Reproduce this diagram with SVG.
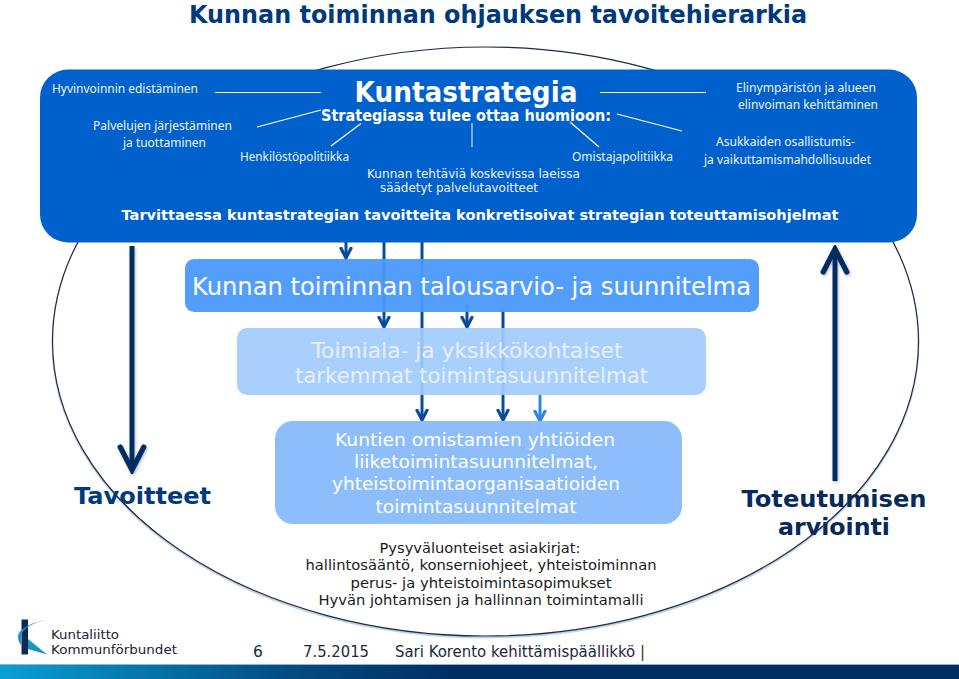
<svg xmlns="http://www.w3.org/2000/svg" width="959" height="679" viewBox="0 0 959 679">
<defs>
<linearGradient id="bar" x1="0" x2="1" y1="0" y2="0"><stop offset="0" stop-color="#09a0d6"/><stop offset="0.15" stop-color="#0575aa"/><stop offset="0.3" stop-color="#034c82"/><stop offset="0.48" stop-color="#002d62"/><stop offset="1" stop-color="#002d62"/></linearGradient>
<filter id="sh" filterUnits="userSpaceOnUse" x="0" y="0" width="959" height="679"><feDropShadow dx="1" dy="1.500" stdDeviation="1.500" flood-color="#5a6a80" flood-opacity="0.45"/></filter>
<marker id="ahb" viewBox="0 0 10 10" refX="8.6" refY="5" markerWidth="6.2" markerHeight="6.2" orient="auto" markerUnits="strokeWidth"><path d="M1.2 1.2L8.6 5L1.2 8.8" fill="none" stroke="#002d62" stroke-width="1.700" stroke-linecap="round"/></marker>
<marker id="ahm" viewBox="0 0 10 10" refX="8.6" refY="5" markerWidth="4.400" markerHeight="4.400" orient="auto" markerUnits="strokeWidth"><path d="M1.2 1.2L8.6 5L1.2 8.800" fill="none" stroke="#0a4c9c" stroke-width="2.400" stroke-linecap="round"/></marker>
<marker id="ahl" viewBox="0 0 10 10" refX="8.6" refY="5" markerWidth="4.400" markerHeight="4.400" orient="auto" markerUnits="strokeWidth"><path d="M1.2 1.2L8.6 5L1.2 8.800" fill="none" stroke="#2f86e6" stroke-width="2.400" stroke-linecap="round"/></marker>
</defs>
<style>
text{font-family:"DejaVu Sans","Liberation Sans",sans-serif}
.s{font-family:"Noto Sans","Liberation Sans",sans-serif;font-size:12.6px;fill:#eef4fc}
.v{font-family:"DejaVu Sans",sans-serif;font-size:12px;fill:#eef4fc}
.w{fill:#fff}
.m{text-anchor:middle}
.k{fill:#1a1a1a;font-size:14.5px}
.ft{fill:#1c2a3a;font-size:15.5px}
.thin{stroke:#fff;stroke-width:1.200;fill:none}
.a{fill:none;stroke-linecap:butt}
.big{stroke:#002d62;stroke-width:5}
.mid{stroke:#0a4c9c;stroke-width:3}
.lit{stroke:#2f86e6;stroke-width:3}
</style>
<rect width="959" height="679" fill="#fff"/>
<text x="498" y="23" class="m" font-size="24" font-weight="700" fill="#003a7d" textLength="618" lengthAdjust="spacingAndGlyphs">Kunnan toiminnan ohjauksen tavoitehierarkia</text>
<ellipse cx="485.500" cy="343" rx="433" ry="294.500" fill="none" stroke="#c5d3e6" stroke-width="2"/>
<ellipse cx="485.500" cy="341.500" rx="433" ry="294.500" fill="#fff" stroke="#1b2a45" stroke-width="1.200"/>
<g id="connectors">
<path class="a big" d="M132 246V470" marker-end="url(#ahb)" filter="url(#sh)"/>
<path class="a big" d="M835 481V249" marker-end="url(#ahb)" filter="url(#sh)"/>
<path class="a mid" d="M346 242V258" marker-end="url(#ahm)"/>
<path class="a mid" d="M384 242V327" marker-end="url(#ahm)"/>
<path class="a mid" d="M422 242V420" marker-end="url(#ahm)"/>
<path class="a mid" d="M467 305V327" marker-end="url(#ahm)"/>
<path class="a mid" d="M503 311V420" marker-end="url(#ahm)"/>
<path class="a lit" d="M540 395V421" marker-end="url(#ahl)"/>
</g>
<g id="kuntastrategia">
<rect x="40" y="69.500" width="877" height="173" rx="28" fill="#0060cc"/>
<text x="466" y="102" class="m w" font-size="28" font-weight="700" textLength="223" lengthAdjust="spacingAndGlyphs">Kuntastrategia</text>
<text x="466" y="121" class="m w" font-size="15" font-weight="700" textLength="290" lengthAdjust="spacingAndGlyphs">Strategiassa tulee ottaa huomioon:</text>
<text x="52" y="93" class="s" textLength="146" lengthAdjust="spacingAndGlyphs">Hyvinvoinnin edistäminen</text>
<text x="93" y="130" class="s" textLength="139" lengthAdjust="spacingAndGlyphs">Palvelujen järjestäminen</text>
<text x="123" y="147" class="s" textLength="83" lengthAdjust="spacingAndGlyphs">ja tuottaminen</text>
<text x="240" y="161" class="s" textLength="109" lengthAdjust="spacingAndGlyphs">Henkilöstöpolitiikka</text>
<text x="572" y="161" class="s" textLength="101" lengthAdjust="spacingAndGlyphs">Omistajapolitiikka</text>
<text x="473.500" y="178" class="v m" textLength="213" lengthAdjust="spacingAndGlyphs">Kunnan tehtäviä koskevissa laeissa</text>
<text x="459" y="192" class="v m" textLength="158" lengthAdjust="spacingAndGlyphs">säädetyt palvelutavoitteet</text>
<text x="736" y="92" class="s" textLength="140" lengthAdjust="spacingAndGlyphs">Elinympäristön ja alueen</text>
<text x="738" y="109" class="s" textLength="140" lengthAdjust="spacingAndGlyphs">elinvoiman kehittäminen</text>
<text x="716" y="146" class="s" textLength="139" lengthAdjust="spacingAndGlyphs">Asukkaiden osallistumis-</text>
<text x="704" y="164" class="s" textLength="167" lengthAdjust="spacingAndGlyphs">ja vaikuttamismahdollisuudet</text>
<text x="480" y="220" class="m w" font-size="14" font-weight="700" textLength="717" lengthAdjust="spacingAndGlyphs">Tarvittaessa kuntastrategian tavoitteita konkretisoivat strategian toteuttamisohjelmat</text>
<path class="thin" d="M215 92.500H321M600 92.500H706M257 127L321 110M617 114L682 131M331 146L361 123.500M570 122L599 147"/>
<path d="M472 123V147" stroke="#cfe0f5" stroke-width="1.200" fill="none"/>
</g>
<g id="talousarvio">
<rect x="185" y="259" width="574" height="53" rx="9" fill="#4b99fb" fill-opacity="0.95"/>
<text x="471.500" y="295" class="m w" font-size="24" textLength="559" lengthAdjust="spacingAndGlyphs">Kunnan toiminnan talousarvio- ja suunnitelma</text>
</g>
<g id="toimiala">
<rect x="237" y="328" width="469" height="67" rx="10" fill="#a2cbfc" fill-opacity="0.93"/>
<text x="467" y="358" class="m" font-size="21" fill="#e6f0fd" textLength="311" lengthAdjust="spacingAndGlyphs">Toimiala- ja yksikkökohtaiset</text>
<text x="471.500" y="383" class="m" font-size="21" fill="#e6f0fd" textLength="353" lengthAdjust="spacingAndGlyphs">tarkemmat toimintasuunnitelmat</text>
</g>
<g id="kuntien">
<rect x="275" y="421" width="407" height="103" rx="18" fill="#8dbdfb"/>
<g fill="#fff" font-size="18" text-anchor="middle">
<text x="475" y="446" textLength="280" lengthAdjust="spacingAndGlyphs">Kuntien omistamien yhtiöiden</text>
<text x="476" y="468" textLength="244" lengthAdjust="spacingAndGlyphs">liiketoimintasuunnitelmat,</text>
<text x="476" y="490" textLength="288" lengthAdjust="spacingAndGlyphs">yhteistoimintaorganisaatioiden</text>
<text x="476" y="513" textLength="201" lengthAdjust="spacingAndGlyphs">toimintasuunnitelmat</text>
</g>
</g>
<g id="pysyvaluonteiset">
<text x="480" y="553" class="m k" textLength="201" lengthAdjust="spacingAndGlyphs">Pysyväluonteiset asiakirjat:</text>
<text x="481" y="570" class="m k" textLength="351" lengthAdjust="spacingAndGlyphs">hallintosääntö, konserniohjeet, yhteistoiminnan</text>
<text x="481" y="588" class="m k" textLength="261" lengthAdjust="spacingAndGlyphs">perus- ja yhteistoimintasopimukset</text>
<text x="481" y="605" class="m k" textLength="325" lengthAdjust="spacingAndGlyphs">Hyvän johtamisen ja hallinnan toimintamalli</text>
</g>
<g id="tavoitteet"><text x="142.500" y="504" class="m" font-size="23" font-weight="700" fill="#003a7d" textLength="137" lengthAdjust="spacingAndGlyphs">Tavoitteet</text></g>
<g id="toteutumisen">
<text x="834" y="507" class="m" font-size="23.500" font-weight="700" fill="#062a5c" textLength="185" lengthAdjust="spacingAndGlyphs">Toteutumisen</text>
<text x="834" y="535" class="m" font-size="23.500" font-weight="700" fill="#062a5c" textLength="112" lengthAdjust="spacingAndGlyphs">arviointi</text>
</g>
<path d="M109.900 488A433 294.500 0 0 0 156.500 533M861.100 488A433 294.500 0 0 1 814.500 533" fill="none" stroke="#1b2a45" stroke-width="1"/>
<g id="logo">
<path d="M21.500 619.500H28V654.500H21.500Z" fill="#0f2a5a"/>
<path d="M45 620C33 622 18 629 18 637C18 641 20 644 21.500 645V634C24 627 36 622 45 620Z" fill="#1597c4"/>
<path d="M28 639L47 654.500L28 649Z" fill="#1597c4"/>
<text x="51" y="639" font-size="13" fill="#223" textLength="68" lengthAdjust="spacingAndGlyphs">Kuntaliitto</text>
<text x="51" y="654" font-size="13" fill="#223" textLength="126" lengthAdjust="spacingAndGlyphs">Kommunförbundet</text>
</g>
<g id="footer">
<text x="258" y="657" class="m ft">6</text>
<text x="303" y="657" class="ft" textLength="66" lengthAdjust="spacingAndGlyphs">7.5.2015</text>
<text x="395" y="657" class="ft" textLength="250" lengthAdjust="spacingAndGlyphs">Sari Korento kehittämispäällikkö |</text>
<rect y="664" width="959" height="15" fill="url(#bar)"/>
<rect y="664" width="959" height="1" fill="#8fb8d0"/>
</g>
</svg>
